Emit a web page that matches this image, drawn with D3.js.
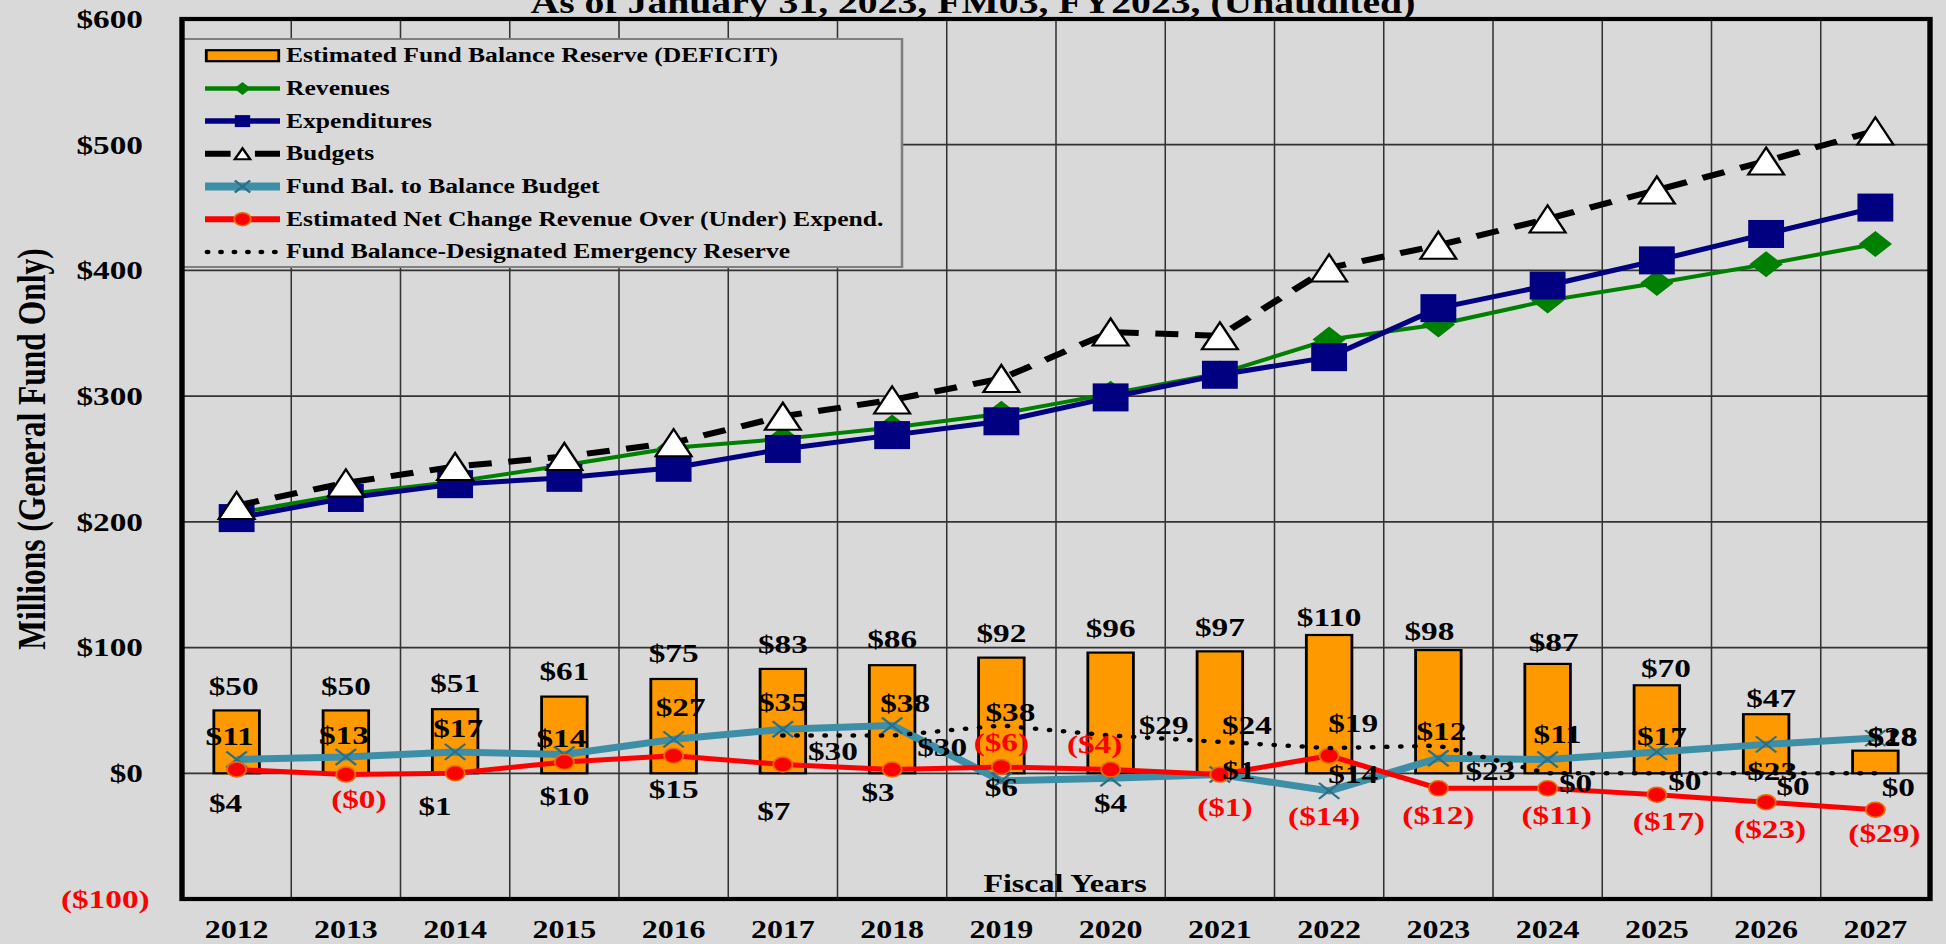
<!DOCTYPE html>
<html>
<head>
<meta charset="utf-8">
<script src="https://cdn.jsdelivr.net/npm/d3@7"></script>
<style>
  html, body { margin: 0; padding: 0; background: #d9d9d9; overflow: hidden; }
  text { font-family: "Liberation Serif", "Times New Roman", serif; font-weight: bold; }
</style>
</head>
<body>
<svg id="chart"></svg>
<script>
// values (millions)
var years = [2012, 2013, 2014, 2015, 2016, 2017, 2018, 2019, 2020, 2021, 2022, 2023, 2024, 2025, 2026, 2027];
var reserve = [50, 50, 51, 61, 75, 83, 86, 92, 96, 97, 110, 98, 87, 70, 47, 18];
var revenues = [207, 222, 232, 245, 259, 266, 275, 286, 302, 318, 345, 357, 376, 390, 405, 421];
var expenditures = [203, 219, 230, 235, 243, 258, 269, 280, 299, 317, 331, 370, 388, 408, 429, 450];
var budgets = [213, 231, 244, 252, 263, 284, 297, 314, 351, 348, 402, 420, 441, 464, 487, 511];
var fundBal = [11, 13, 17, 15, 27, 35, 38, -6, -4, -1, -14, 12, 11, 17, 23, 28];
var netChange = [3, -1, 0, 9, 14, 7, 3, 5, 3, -1, 14, -12, -12, -17, -23, -29];
var emergency = [null, null, null, null, null, 30, 30, 38, 30, 25, 20, 22, 0, 0, 0, 0];

var yTicks = [-100, 0, 100, 200, 300, 400, 500, 600];

// data label texts as printed on the chart
var reserveLabels = ["$50", "$50", "$51", "$61", "$75", "$83", "$86", "$92", "$96", "$97", "$110", "$98", "$87", "$70", "$47", "$18"];
var fundBalLabels = ["$11", "$13", "$17", "$14", "$27", "$35", "$38", "($6)", "($4)", "$1", "$14", "$12", "$11", "$17", "$23", "$28"];
var netChangeLabels = ["$4", "($0)", "$1", "$10", "$15", "$7", "$3", "$6", "$4", "($1)", "($14)", "($12)", "($11)", "($17)", "($23)", "($29)"];
var emergencyLabels = [null, null, null, null, null, "$30", "$30", "$38", "$29", "$24", "$19", "$23", "$0", "$0", "$0", "$0"];

var legendNames = [
  "Estimated Fund Balance Reserve (DEFICIT)",
  "Revenues",
  "Expenditures",
  "Budgets",
  "Fund Bal. to Balance Budget",
  "Estimated Net Change Revenue Over (Under) Expend.",
  "Fund Balance-Designated Emergency Reserve"
];

// label placement (px offsets from the point), kept apart from the data
var reserveOff = [[-3,-25],[0,-25],[0,-26],[0,-26],[0,-26],[0,-25],[0,-26],[0,-25],[0,-25],[0,-24],[0,-18],[-9,-19],[6,-22],[9,-17],[5,-16],[17,-14]];
var fundBalOff = [[-7,-24],[-2,-22],[3,-24],[-3,-17],[7,-32],[0,-27],[13,-23],[0,-39],[-16,-34],[19,-5],[24,-17],[3,-27],[10,-26],[5,-16],[6,26],[17,-2]];
var netChangeOff = [[-11,33],[13,24],[-20,33],[0,34],[0,33],[-9,46],[-14,22],[0,20],[0,33],[5,32],[-5,60],[0,26],[9,26],[12,26],[4,27],[9,23]];
var emergencyOff = [null,null,null,null,null,[50,15],[50,11],[9,-14],[53,-11],[27,-17],[24,-25],[52,25],[28,10],[28,8],[27,13],[23,14]];

// the reference picture is stretched sideways, so draw in a narrower space
var sx = 1.28;
var W = 1946 / sx, H = 944;

var svg = d3.select("#chart")
  .attr("width", 1946).attr("height", 944)
  .attr("viewBox", "0 0 " + W + " " + H)
  .attr("preserveAspectRatio", "none");

svg.append("rect").attr("width", W).attr("height", H).attr("fill", "#d9d9d9");

var plotLeft = 182 / sx, plotRight = 1930 / sx, plotTop = 19, plotBottom = 899;

var x = d3.scaleBand().domain(years).range([plotLeft, plotRight]);
var y = d3.scaleLinear().domain([-100, 600]).range([plotBottom, plotTop]);
function cx(yr) { return x(yr) + x.bandwidth() / 2; }

var fmt = function (v) { return v < 0 ? "($" + (-v) + ")" : "$" + v; };

// title (cut at the top edge)
svg.append("text")
  .attr("x", 973 / sx).attr("y", 13)
  .attr("text-anchor", "middle")
  .attr("font-size", 31)
  .text("As of January 31, 2023, FM03, FY2023,  (Unaudited)");

// grid
var grid = svg.append("g");
grid.selectAll(".hg").data(yTicks).join("line").attr("class", "hg")
  .attr("x1", plotLeft).attr("x2", plotRight)
  .attr("y1", function (d) { return y(d); }).attr("y2", function (d) { return y(d); })
  .attr("stroke", "#333").attr("stroke-width", 1.8);
grid.selectAll(".vg").data(years.slice(1)).join("line").attr("class", "vg")
  .attr("x1", function (d) { return x(d); }).attr("x2", function (d) { return x(d); })
  .attr("y1", plotTop).attr("y2", plotBottom)
  .attr("stroke", "#333").attr("stroke-width", 1.2);

// axes
var yAxis = svg.append("g").attr("transform", "translate(" + plotLeft + ",0)")
  .call(d3.axisLeft(y).tickValues(yTicks).tickSize(0).tickPadding(39 / sx).tickFormat(fmt));
yAxis.select(".domain").remove();
yAxis.selectAll("text")
  .attr("font-size", 26)
  .attr("fill", function (d) { return d < 0 ? "#ff0000" : "#000"; })
  .attr("dx", function (d) { return d < 0 ? 6.6 / sx : 0; });

var xAxis = svg.append("g").attr("transform", "translate(0," + plotBottom + ")")
  .call(d3.axisBottom(x).tickSize(0).tickPadding(21));
xAxis.select(".domain").remove();
xAxis.selectAll("text").attr("font-size", 25).attr("fill", "#000");

svg.append("text")
  .attr("transform", "translate(" + (32 / sx) + ",449) rotate(-90)")
  .attr("text-anchor", "middle").attr("dominant-baseline", "central")
  .attr("font-size", 31.5)
  .text("Millions (General Fund Only)");

svg.append("text")
  .attr("x", 1065 / sx).attr("y", 892)
  .attr("text-anchor", "middle")
  .attr("font-size", 25)
  .text("Fiscal Years");

// legend box
var lg = svg.append("g");
lg.append("rect")
  .attr("x", plotLeft).attr("y", 39)
  .attr("width", (902 - 182) / sx).attr("height", 228)
  .attr("fill", "#d9d9d9").attr("stroke", "#7f7f7f").attr("stroke-width", 2);

// series
var bw = x.bandwidth() * 0.417;
svg.append("g").selectAll("rect").data(years).join("rect")
  .attr("x", function (d) { return cx(d) - bw / 2; })
  .attr("y", function (d, i) { return y(reserve[i]); })
  .attr("width", bw)
  .attr("height", function (d, i) { return y(0) - y(reserve[i]); })
  .attr("fill", "#ff9900").attr("stroke", "#000").attr("stroke-width", 2.2);

function pairs(arr) { return years.map(function (yr, i) { return [yr, arr[i]]; }); }
var line = d3.line()
  .defined(function (d) { return d[1] != null; })
  .x(function (d) { return cx(d[0]); })
  .y(function (d) { return y(d[1]); });

function drawLine(arr, color, width, dash) {
  svg.append("path").datum(pairs(arr))
    .attr("d", line).attr("fill", "none")
    .attr("stroke", color).attr("stroke-width", width)
    .attr("stroke-linejoin", "round")
    .attr("stroke-dasharray", dash || null)
    .attr("stroke-linecap", dash === "0.01,11" ? "round" : "butt");
}

function drawMarkers(arr, draw) {
  var g = svg.append("g");
  pairs(arr).forEach(function (d) {
    if (d[1] == null) return;
    draw(g.append("g").attr("transform", "translate(" + cx(d[0]) + "," + y(d[1]) + ")"));
  });
}

var diamond = function (g, s) {
  g.append("path").attr("d", "M0," + (-s) + "L" + s + ",0L0," + s + "L" + (-s) + ",0Z").attr("fill", "#008000");
};
var square = function (g, s) {
  g.append("rect").attr("x", -s).attr("y", -s).attr("width", 2 * s).attr("height", 2 * s).attr("fill", "#000080");
};
var triangle = function (g, w, h) {
  g.append("path").attr("d", "M0," + (-h) + "L" + w + "," + h + "L" + (-w) + "," + h + "Z")
    .attr("fill", "#fff").attr("stroke", "#000").attr("stroke-width", 2);
};
var cross = function (g, s) {
  g.append("path").attr("d", "M" + (-s) + "," + (-s) + "L" + s + "," + s + "M" + (-s) + "," + s + "L" + s + "," + (-s))
    .attr("stroke", "#2b6f86").attr("stroke-width", 2).attr("fill", "none");
};
var dot = function (g, r) {
  g.append("ellipse").attr("rx", r).attr("ry", r).attr("fill", "#ff0000").attr("stroke", "#e46c0a").attr("stroke-width", 1.5);
};

drawLine(revenues, "#008000", 4);
drawMarkers(revenues, function (g) { diamond(g, 13); });
drawLine(expenditures, "#000080", 5);
drawMarkers(expenditures, function (g) { square(g, 14); });
drawLine(budgets, "#000", 6, "18,13");
drawMarkers(budgets, function (g) { triangle(g, 14, 13.5); });
drawLine(fundBal, "#3d8fa8", 7);
drawMarkers(fundBal, function (g) { cross(g, 8); });
drawLine(netChange, "#ff0000", 5);
drawMarkers(netChange, function (g) { dot(g, 7.5); });
drawLine(emergency, "#000", 4.5, "0.01,11");

// data labels
function drawLabels(vals, strs, offs) {
  var g = svg.append("g");
  years.forEach(function (yr, i) {
    if (strs[i] == null) return;
    g.append("text")
      .attr("x", cx(yr) + offs[i][0] / sx)
      .attr("y", y(vals[i]) + offs[i][1])
      .attr("text-anchor", "middle").attr("dominant-baseline", "central")
      .attr("font-size", 26)
      .attr("fill", strs[i].charAt(0) === "(" ? "#ff0000" : "#000")
      .text(strs[i]);
  });
}
drawLabels(reserve, reserveLabels, reserveOff);
drawLabels(emergency, emergencyLabels, emergencyOff);
drawLabels(fundBal, fundBalLabels, fundBalOff);
drawLabels(netChange, netChangeLabels, netChangeOff);

// legend entries
var sx0 = 205 / sx, sx1 = 280 / sx, smid = (sx0 + sx1) / 2;
legendNames.forEach(function (name, i) {
  var ly = 55.7 + i * 32.7;
  var g = lg.append("g");
  if (i === 0) {
    g.append("rect").attr("x", sx0 + 1).attr("y", ly - 5.5).attr("width", sx1 - sx0 - 2).attr("height", 11)
      .attr("fill", "#ff9900").attr("stroke", "#000").attr("stroke-width", 2.2);
  } else {
    var st = [null,
      ["#008000", 4.5, null], ["#000080", 5.5, null], ["#000", 6, "20,19"],
      ["#3d8fa8", 8, null], ["#ff0000", 6, null], ["#000", 4.5, "0.01,10.5"]][i];
    g.append("line").attr("x1", st[2] === "0.01,10.5" ? sx0 + 2 : sx0).attr("x2", sx1).attr("y1", ly).attr("y2", ly)
      .attr("stroke", st[0]).attr("stroke-width", st[1])
      .attr("stroke-dasharray", st[2])
      .attr("stroke-linecap", st[2] === "0.01,10.5" ? "round" : "butt");
    var m = g.append("g").attr("transform", "translate(" + smid + "," + ly + ")");
    if (i === 1) diamond(m, 6.5);
    if (i === 2) square(m, 6);
    if (i === 3) triangle(m, 6, 5.5);
    if (i === 4) cross(m, 6);
    if (i === 5) dot(m, 6.5);
  }
  g.append("text")
    .attr("x", 286 / sx).attr("y", ly)
    .attr("dominant-baseline", "central")
    .attr("font-size", 20)
    .text(name);
});

// plot frame on top
svg.append("rect")
  .attr("x", plotLeft).attr("y", plotTop)
  .attr("width", plotRight - plotLeft).attr("height", plotBottom - plotTop)
  .attr("fill", "none").attr("stroke", "#000").attr("stroke-width", 4.2);
</script>
</body>
</html>
